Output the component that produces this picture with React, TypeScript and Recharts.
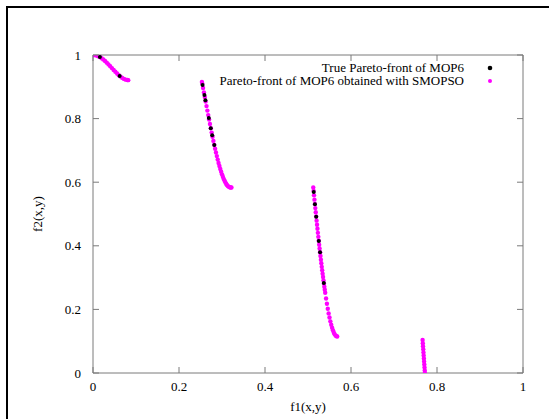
import React from 'react';
import { ScatterChart, Scatter, XAxis, YAxis, Legend, Label, ReferenceArea } from 'recharts';

// ---- data ----
const trueF1 = [0.016, 0.062, 0.2548, 0.2591, 0.2614, 0.2693, 0.2739, 0.2772, 0.2821, 0.5133, 0.5161, 0.5191, 0.5251, 0.528, 0.5368];
const trueF2 = [0.9935, 0.9342, 0.906, 0.874, 0.858, 0.802, 0.77, 0.748, 0.717, 0.569, 0.531, 0.491, 0.415, 0.38, 0.283];

const smopsoF1 = [
  0, 0.004, 0.008, 0.012, 0.016, 0.02, 0.024, 0.028, 0.032, 0.036, 0.04, 0.044, 0.048, 0.052, 0.056, 0.06, 0.064, 0.068, 0.072, 0.076, 0.08, 0.082,
  0.2533, 0.254, 0.256, 0.258, 0.26, 0.262, 0.264, 0.266, 0.268, 0.27, 0.272, 0.274, 0.276, 0.278, 0.28, 0.282, 0.284, 0.286, 0.288, 0.29, 0.292, 0.294, 0.296, 0.298, 0.3, 0.302, 0.304, 0.306, 0.308, 0.31, 0.312, 0.314, 0.316, 0.318, 0.32, 0.322,
  0.5122, 0.513, 0.514, 0.515, 0.516, 0.517, 0.518, 0.519, 0.52, 0.521, 0.522, 0.523, 0.524, 0.525, 0.526, 0.527, 0.528, 0.529, 0.53, 0.531, 0.532, 0.533, 0.534, 0.535, 0.536, 0.537, 0.538, 0.539, 0.54, 0.542, 0.544, 0.546, 0.548, 0.55, 0.552, 0.554, 0.556, 0.558, 0.56, 0.562, 0.564, 0.566, 0.568,
  0.7665, 0.767, 0.7675, 0.768, 0.7685, 0.769, 0.7695, 0.77, 0.7705, 0.771, 0.7715, 0.7719,
];
const smopsoF2 = [
  1, 0.9996, 0.9983, 0.9963, 0.9935, 0.99, 0.9858, 0.9811, 0.9759, 0.9704, 0.9646, 0.9588, 0.9528, 0.9471, 0.9416, 0.9365, 0.932, 0.928, 0.9249, 0.9225, 0.9212, 0.9209,
  0.9149, 0.91, 0.896, 0.8819, 0.8677, 0.8535, 0.8393, 0.8251, 0.811, 0.797, 0.7832, 0.7695, 0.756, 0.7428, 0.7299, 0.7174, 0.7052, 0.6934, 0.682, 0.6711, 0.6606, 0.6509, 0.6415, 0.6327, 0.6247, 0.6173, 0.6104, 0.6044, 0.5991, 0.5945, 0.5907, 0.5876, 0.5854, 0.5839, 0.5833, 0.5834,
  0.5831, 0.5722, 0.5586, 0.5452, 0.5318, 0.5185, 0.5053, 0.4921, 0.4791, 0.4662, 0.4534, 0.4407, 0.4282, 0.4158, 0.4035, 0.3915, 0.3795, 0.3679, 0.3563, 0.345, 0.3338, 0.3229, 0.3122, 0.3017, 0.2913, 0.2812, 0.2714, 0.262, 0.2525, 0.2345, 0.218, 0.2022, 0.1875, 0.1744, 0.1625, 0.1516, 0.1423, 0.1342, 0.1275, 0.1222, 0.1183, 0.1159, 0.1148,
  0.1037, 0.0939, 0.0841, 0.0745, 0.0648, 0.0552, 0.0457, 0.0361, 0.0267, 0.0173, 0.0079, 0.0004,
];

const axisTicks = [0, 0.2, 0.4, 0.6, 0.8, 1];
const trueName = 'True Pareto-front of MOP6';
const smopsoName = 'Pareto-front of MOP6 obtained with SMOPSO';
const xLabel = 'f1(x,y)';
const yLabel = 'f2(x,y)';

const trueData = trueF1.map((x, i) => ({ x, y: trueF2[i] }));
const smopsoData = smopsoF1.map((x, i) => ({ x, y: smopsoF2[i] }));

const FONT = '"Liberation Serif", "Times New Roman", serif';
const FRAME = '#7a7a7a';
const BLACK = '#000000';
const MAGENTA = '#ff00ff';

const W = 549;
const H = 419;
const MARGIN = { top: 55, right: 26, bottom: 0, left: 0 };
const Y_AXIS_W = 93;
const X_AXIS_H = 46;
const PLOT_TOP = MARGIN.top;
const PLOT_RIGHT = W - MARGIN.right;
const TICK_LEN = 6;
const X_TICK_GAP = 12;
const Y_TICK_GAP = 12;

const dot = (color: string, r: number) => (props: any) =>
  props.cx == null ? <g /> : <circle cx={props.cx} cy={props.cy} r={r} fill={color} />;

const legendOrder = [
  { name: trueName, color: BLACK, r: 2.3 },
  { name: smopsoName, color: MAGENTA, r: 2 },
];

const LegendContent = () => (
  <div style={{ position: 'relative', width: W, height: 27, fontFamily: FONT, fontSize: 13, color: '#000' }}>
    {legendOrder.map((e, i) => (
      <div key={e.name} style={{ position: 'absolute', top: i * 13.5, left: 0, width: W, height: 13, lineHeight: '13px' }}>
        <span style={{ position: 'absolute', right: 85, whiteSpace: 'nowrap' }}>{e.name}</span>
        <svg width={10} height={13} style={{ position: 'absolute', left: 485, top: 0 }}>
          <circle cx={5} cy={7} r={e.r} fill={e.color} />
        </svg>
      </div>
    ))}
  </div>
);

// bottom axis tick: label plus inward tick at the bottom edge and a mirrored one at the top edge
const XTick = (props: any) => {
  const { x, y, payload } = props;
  const axisY = y - X_TICK_GAP;
  return (
    <g>
      <line x1={x} y1={axisY} x2={x} y2={axisY - TICK_LEN} stroke={FRAME} strokeWidth={1} />
      <line x1={x} y1={PLOT_TOP} x2={x} y2={PLOT_TOP + TICK_LEN} stroke={FRAME} strokeWidth={1} />
      <text x={x} y={y + 1} textAnchor="middle" dominantBaseline="central" fontFamily={FONT} fontSize={13} fill="#000">
        {String(payload.value)}
      </text>
    </g>
  );
};

// left axis tick: label plus inward tick at the left edge and a mirrored one at the right edge
const YTick = (props: any) => {
  const { x, y, payload } = props;
  const axisX = x + Y_TICK_GAP;
  return (
    <g>
      <line x1={axisX} y1={y} x2={axisX + TICK_LEN} y2={y} stroke={FRAME} strokeWidth={1} />
      <line x1={PLOT_RIGHT - TICK_LEN} y1={y} x2={PLOT_RIGHT} y2={y} stroke={FRAME} strokeWidth={1} />
      <text x={x} y={y} textAnchor="end" dominantBaseline="central" fontFamily={FONT} fontSize={13} fill="#000">
        {String(payload.value)}
      </text>
    </g>
  );
};

const YLabelContent = (props: any) => {
  const vb = props && props.viewBox && props.viewBox.height ? props.viewBox : { x: 0, y: 55, width: 93, height: 318 };
  const cx = 37;
  const cy = vb.y + vb.height / 2;
  return (
    <text x={cx} y={cy} transform={`rotate(-90, ${cx}, ${cy})`} textAnchor="middle" dominantBaseline="central"
      fontFamily={FONT} fontSize={13} fill="#000">{yLabel}</text>
  );
};

const XLabelContent = (props: any) => {
  const vb = props && props.viewBox && props.viewBox.width ? props.viewBox : { x: 93, y: 373, width: 430, height: 46 };
  const cx = vb.x + vb.width / 2;
  const cy = 406;
  return (
    <text x={cx} y={cy} textAnchor="middle" dominantBaseline="central" fontFamily={FONT} fontSize={13} fill="#000">{xLabel}</text>
  );
};

export default function App() {
  return (
    <div style={{ position: 'fixed', left: 0, top: 0, width: W, height: H, background: '#fff', overflow: 'hidden' }}>
      <ScatterChart width={W} height={H} margin={MARGIN}>
        <XAxis dataKey="x" type="number" domain={[0, 1]} ticks={axisTicks} height={X_AXIS_H}
          axisLine={false} tickLine={false} tickSize={0} tickMargin={X_TICK_GAP} tick={XTick} allowDataOverflow>
          <Label content={XLabelContent} />
        </XAxis>
        <YAxis dataKey="y" type="number" domain={[0, 1]} ticks={axisTicks} width={Y_AXIS_W}
          axisLine={false} tickLine={false} tickSize={0} tickMargin={Y_TICK_GAP} tick={YTick} allowDataOverflow>
          <Label content={YLabelContent} />
        </YAxis>
        <ReferenceArea x1={0} x2={1} y1={0} y2={1} fill="none" fillOpacity={0} stroke={FRAME} strokeWidth={1} ifOverflow="visible" />
        <Legend layout="horizontal" verticalAlign="middle" align="center" content={LegendContent}
          wrapperStyle={{ position: 'absolute', top: 60.5, left: 0, width: W, height: 27 }} />
        <Scatter name={smopsoName} data={smopsoData} fill={MAGENTA} shape={dot(MAGENTA, 2.2)} isAnimationActive={false} />
        <Scatter name={trueName} data={trueData} fill={BLACK} shape={dot(BLACK, 2.0)} isAnimationActive={false} />
      </ScatterChart>
      <div style={{ position: 'absolute', left: 6, top: 6, width: 560, height: 430, borderTop: '2px solid #000', borderLeft: '2px solid #000', boxSizing: 'border-box', pointerEvents: 'none', zIndex: 5 }} />
    </div>
  );
}
